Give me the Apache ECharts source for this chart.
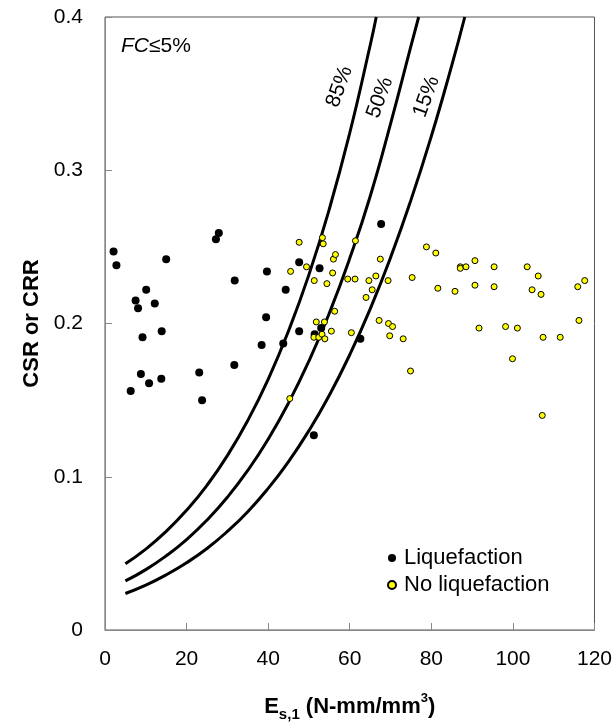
<!DOCTYPE html>
<html><head><meta charset="utf-8">
<script src="https://cdn.jsdelivr.net/npm/echarts@6/dist/echarts.min.js"></script>
<style>html,body{margin:0;padding:0;background:#fff}#c{width:615px;height:727px}</style>
</head><body><div id="c"></div>
<script>
const FONT = "'Liberation Sans', Arial, sans-serif";
const xRange = [0, 120, 20];
const yRange = [0, 0.4, 0.1];

const liquefaction = [
  [2.1,0.247],[2.8,0.238],[6.3,0.156],[7.5,0.215],[8.1,0.210],[8.8,0.167],[9.2,0.191],
  [10.1,0.222],[10.8,0.161],[12.2,0.213],[13.8,0.164],[13.9,0.195],[15.0,0.242],
  [23.1,0.168],[23.8,0.150],[27.2,0.255],[27.9,0.259],[31.7,0.173],[31.8,0.228],
  [38.4,0.186],[39.5,0.204],[39.7,0.234],[43.7,0.187],[44.3,0.222],[47.6,0.195],
  [47.6,0.240],[51.2,0.127],[51.4,0.193],[52.6,0.236],[53.0,0.197],[62.6,0.190],[67.7,0.265]
];
const noLiquefaction = [
  [45.3,0.151],[45.5,0.234],[47.6,0.253],[49.4,0.237],[51.2,0.191],[51.3,0.228],[51.8,0.201],
  [52.4,0.191],[53.2,0.193],[53.3,0.256],[53.5,0.252],[53.8,0.201],[53.9,0.190],[54.4,0.226],
  [55.5,0.195],[55.8,0.233],[56.0,0.242],[56.3,0.208],[56.5,0.245],[59.5,0.229],[60.4,0.194],
  [61.3,0.229],[61.4,0.254],[64.0,0.217],[64.7,0.228],[65.5,0.222],[66.4,0.231],[67.2,0.202],
  [67.5,0.242],[69.4,0.228],[69.5,0.200],[69.8,0.192],[70.5,0.198],[73.1,0.190],[74.9,0.169],
  [75.3,0.230],[78.8,0.250],[81.1,0.246],[81.6,0.223],[85.8,0.221],[87.1,0.237],[87.1,0.236],
  [88.5,0.237],[90.7,0.241],[90.7,0.225],[91.7,0.197],[95.4,0.237],[95.4,0.224],[98.2,0.198],
  [99.9,0.177],[101.1,0.197],[103.5,0.237],[104.7,0.222],[106.2,0.231],[106.9,0.219],
  [107.2,0.140],[107.4,0.191],[111.6,0.191],[115.9,0.224],[116.2,0.202],[117.6,0.228]
];
const curve85 = [
  [5,0.0432],[10,0.0528],[15,0.0643],[20,0.0781],[25,0.0944],[30,0.1138],[35,0.1367],
  [40,0.1636],[45,0.1952],[50,0.2319],[55,0.2747],[60,0.3243],[65,0.3814],[66.5,0.4]
];
const curve50 = [
  [5,0.032],[10,0.0394],[15,0.0484],[20,0.0590],[25,0.0717],[30,0.0866],[35,0.1041],
  [40,0.1245],[45,0.1482],[50,0.1755],[55,0.2068],[60,0.2425],[65,0.2829],[70,0.3303],
  [75,0.3810],[76.9,0.4]
];
const curve15 = [
  [5,0.0238],[10,0.0293],[15,0.0360],[20,0.0439],[25,0.0532],[30,0.0643],[35,0.0772],
  [40,0.0924],[45,0.1099],[50,0.1301],[55,0.1532],[60,0.1796],[65,0.2094],[70,0.2430],
  [75,0.2805],[80,0.3222],[85,0.3683],[88.2,0.4]
];
const curveLabels = [['85%',57.5,0.3545],['50%',67.4,0.3474],['15%',78.8,0.348]];

const chart = echarts.init(document.getElementById('c'), null, {renderer:'canvas'});
const curveSeries = (name, data) => ({
  name, type:'line', data, smooth:0.5, showSymbol:false, silent:true,
  lineStyle:{color:'#000', width:3}, z:2
});
const option = {
  animation:false,
  backgroundColor:'#fff',
  textStyle:{fontFamily:FONT},
  title:{
    text:'{i|FC}{n|≤5%}', left:121, top:36, padding:0,
    textStyle:{fontWeight:'normal', fontSize:21, color:'#000', fontFamily:FONT, rich:{
      i:{fontStyle:'italic', fontWeight:'normal', fontSize:21, fontFamily:FONT, color:'#000'},
      n:{fontWeight:'normal', fontSize:21, fontFamily:FONT, color:'#000'}
    }}
  },
  grid:{left:105, right:19, top:17, bottom:94, show:true, borderColor:'#555', borderWidth:1, backgroundColor:'transparent'},
  legend:{
    orient:'vertical', left:387, top:547, padding:0, itemGap:5,
    itemWidth:14, itemHeight:8,
    data:['Liquefaction','No liquefaction'],
    textStyle:{fontSize:22, fontFamily:FONT, color:'#000', lineHeight:22}
  },
  xAxis:{
    type:'value', min:xRange[0], max:xRange[1], interval:xRange[2],
    axisLine:{show:true, lineStyle:{color:'#888', width:1}},
    axisTick:{show:true, inside:true, length:7, lineStyle:{color:'#888'}},
    splitLine:{show:false},
    axisLabel:{fontSize:21, color:'#000', margin:19, fontFamily:FONT},
    name:'E{sub|s,1}{m| (N-mm/mm}{sup|3}{m|)}', nameLocation:'middle', nameGap:62,
    nameTextStyle:{
      fontSize:22, fontWeight:'bold', color:'#000', fontFamily:FONT, lineHeight:30,
      rich:{
        m:{fontSize:22, fontWeight:'bold', color:'#000', fontFamily:FONT, lineHeight:30},
        sub:{fontSize:15, fontWeight:'bold', color:'#000', fontFamily:FONT, lineHeight:14, verticalAlign:'bottom'},
        sup:{fontSize:13, fontWeight:'bold', color:'#000', fontFamily:FONT, lineHeight:20, verticalAlign:'top'}
      }
    }
  },
  yAxis:{
    type:'value', min:yRange[0], max:yRange[1], interval:yRange[2],
    axisLine:{show:true, lineStyle:{color:'#888', width:1}},
    axisTick:{show:true, inside:true, length:7, lineStyle:{color:'#888'}},
    splitLine:{show:false},
    axisLabel:{fontSize:21, color:'#000', margin:22, fontFamily:FONT,
      formatter:v => v === 0 ? '0' : String(+v.toFixed(1))},
    name:'CSR or CRR', nameLocation:'middle', nameGap:58, nameRotate:90,
    nameTextStyle:{fontSize:22, fontWeight:'bold', color:'#000', fontFamily:FONT}
  },
  series:[
    curveSeries('85%', curve85),
    curveSeries('50%', curve50),
    curveSeries('15%', curve15),
    {name:'Liquefaction', type:'scatter', data:liquefaction, symbol:'circle', symbolSize:8,
     itemStyle:{color:'#000', opacity:1}, z:3},
    {name:'No liquefaction', type:'scatter', data:noLiquefaction, symbol:'circle', symbolSize:6,
     itemStyle:{color:'#ffff00', borderColor:'#000', borderWidth:1, opacity:1}, z:4}
  ]
};
chart.setOption(option);
const labelGraphics = curveLabels.map(([t,x,y]) => {
  const p = chart.convertToPixel({gridIndex:0}, [x,y]);
  return {type:'text', x:p[0], y:p[1], rotation:70*Math.PI/180, z:10,
    style:{text:t, align:'center', verticalAlign:'middle', fontSize:21, fontFamily:FONT, fill:'#000'}};
});
chart.setOption({graphic:labelGraphics});
</script></body></html>
